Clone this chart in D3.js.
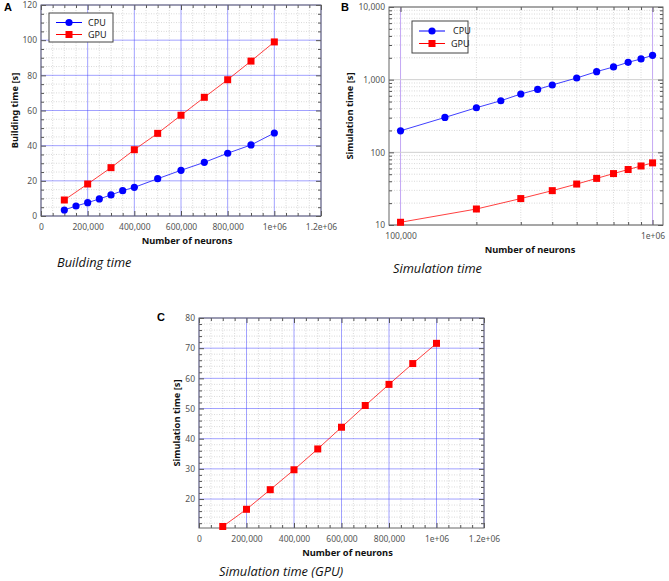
<!DOCTYPE html>
<html><head><meta charset="utf-8">
<script src="https://cdn.jsdelivr.net/npm/d3@7"></script>
<style>
body{margin:0;background:#fff;}
svg{display:block;}
</style></head>
<body>
<svg id="c" width="669" height="581"></svg>
<script>
// ---------- DATA ----------
const neuronsCPU = [100000,150000,200000,250000,300000,350000,400000,500000,600000,700000,800000,900000,1000000];
const neuronsGPU = [100000,200000,300000,400000,500000,600000,700000,800000,900000,1000000];
const buildCPU = [3.4,5.7,7.6,9.7,12.0,14.4,16.3,21.2,26.0,30.5,35.7,40.4,47.2];
const buildGPU = [9.1,18.2,27.5,37.7,47.0,57.3,67.5,77.5,88.1,99.0];
const simCPU = [198,302,411,513,635,735,845,1055,1290,1497,1733,1927,2163];
const simGPU = [10.9,16.6,23.1,29.7,36.6,43.8,51.0,58.0,64.9,71.6];
const seriesNames = ["CPU","GPU"];
const linXTicks = [0,200000,400000,600000,800000,1000000,1200000];
const linXTickLabels = ["0","200,000","400,000","600,000","800,000","1e+06","1.2e+06"];
const buildYTicks = [0,20,40,60,80,100,120];
const buildYTickLabels = ["0","20","40","60","80","100","120"];
const simCYTicks = [20,30,40,50,60,70,80];
const simCYTickLabels = ["20","30","40","50","60","70","80"];
const logXTicks = [100000,1000000];
const logXTickLabels = ["100,000","1e+06"];
const logYTicks = [10,100,1000,10000];
const logYTickLabels = ["10","100","1,000","10,000"];
const panelLabels = ["A","B","C"];
const captions = ["Building time","Simulation time","Simulation time (GPU)"];
const xTitle = "Number of neurons";
const yTitles = ["Building time [s]","Simulation time [s]","Simulation time [s]"];

// ---------- STYLE ----------
const CPU_COL = "#0000ff", GPU_COL = "#ff0000";
const TICK_FONT = "'Noto Sans', sans-serif";
const svg = d3.select("#c");

function drawPanel(o){
  const g = svg.append("g").attr("transform",`translate(${o.left},${o.top})`);
  const W = o.right - o.left, H = o.bottom - o.top;
  const x = (o.xlog ? d3.scaleLog() : d3.scaleLinear()).domain(o.xdom).range([0,W]);
  const y = (o.ylog ? d3.scaleLog() : d3.scaleLinear()).domain(o.ydom).range([H,0]);

  // minor grid
  const gm = g.append("g");
  gm.selectAll("line.mx").data(o.xMinor).join("line")
    .attr("x1",d=>x(d)).attr("x2",d=>x(d)).attr("y1",0).attr("y2",H)
    .attr("stroke","#cfcfcf").attr("stroke-width",0.8).attr("stroke-dasharray","1,1.5");
  gm.selectAll("line.my").data(o.yMinor).join("line")
    .attr("y1",d=>y(d)).attr("y2",d=>y(d)).attr("x1",0).attr("x2",W)
    .attr("stroke","#cfcfcf").attr("stroke-width",0.8).attr("stroke-dasharray","1,1.5");
  // major grid
  gm.selectAll("line.Mx").data(o.xTicks).join("line")
    .attr("x1",d=>x(d)).attr("x2",d=>x(d)).attr("y1",0).attr("y2",H)
    .attr("stroke",o.vGridCol).attr("stroke-width",1);
  gm.selectAll("line.My").data(o.yTicks).join("line")
    .attr("y1",d=>y(d)).attr("y2",d=>y(d)).attr("x1",0).attr("x2",W)
    .attr("stroke",o.hGridCol).attr("stroke-width",1);

  // axes
  function styleAx(sel){
    sel.select(".domain").remove();
    sel.selectAll(".tick line").attr("stroke","#555");
    sel.selectAll("text").attr("fill","#555").attr("font-family",TICK_FONT).attr("font-size","8.5px");
  }
  const minorFmt = () => "";
  g.append("g").attr("transform",`translate(0,${H})`)
    .call(d3.axisBottom(x).tickValues(o.xTicks).tickFormat((d,i)=>o.xLabels[i]).tickSize(-5).tickPadding(8)).call(styleAx);
  g.append("g").attr("transform",`translate(0,${H})`)
    .call(d3.axisBottom(x).tickValues(o.xMinor).tickFormat(minorFmt).tickSize(-3)).call(styleAx);
  g.append("g")
    .call(d3.axisTop(x).tickValues(o.xTicks).tickFormat(minorFmt).tickSize(-5)).call(styleAx);
  g.append("g")
    .call(d3.axisTop(x).tickValues(o.xMinor).tickFormat(minorFmt).tickSize(-3)).call(styleAx);
  g.append("g")
    .call(d3.axisLeft(y).tickValues(o.yTicks).tickFormat((d,i)=>o.yLabels[i]).tickSize(-5).tickPadding(4)).call(styleAx);
  g.append("g")
    .call(d3.axisLeft(y).tickValues(o.yMinor).tickFormat(minorFmt).tickSize(-3)).call(styleAx);
  g.append("g").attr("transform",`translate(${W},0)`)
    .call(d3.axisRight(y).tickValues(o.yTicks).tickFormat(minorFmt).tickSize(-5)).call(styleAx);
  g.append("g").attr("transform",`translate(${W},0)`)
    .call(d3.axisRight(y).tickValues(o.yMinor).tickFormat(minorFmt).tickSize(-3)).call(styleAx);

  // frame
  g.append("rect").attr("width",W).attr("height",H).attr("fill","none").attr("stroke","#666").attr("stroke-width",1);

  // series
  const line = d3.line().x(d=>x(d[0])).y(d=>y(d[1]));
  o.series.forEach(s=>{
    const pts = s.xs.map((v,i)=>[v,s.ys[i]]);
    g.append("path").datum(pts).attr("d",line).attr("fill","none")
      .attr("stroke",s.col).attr("stroke-width",1).attr("stroke-opacity",0.75);
    if(s.shape==="circle"){
      g.selectAll(null).data(pts).join("circle").attr("cx",d=>x(d[0])).attr("cy",d=>y(d[1])).attr("r",3.6).attr("fill",s.col);
    } else {
      g.selectAll(null).data(pts).join("rect").attr("x",d=>x(d[0])-3.5).attr("y",d=>y(d[1])-3.5)
        .attr("width",7).attr("height",7).attr("fill",s.col);
    }
  });

  // legend
  if(o.legend){
    const L = o.legend;
    const lg = svg.append("g").attr("transform",`translate(${L.x},${L.y})`);
    lg.append("rect").attr("width",L.w).attr("height",L.h).attr("fill","#fff").attr("stroke","#444").attr("stroke-width",1);
    o.series.forEach((s,i)=>{
      const yy = L.rowY[i];
      lg.append("line").attr("x1",L.lx0).attr("x2",L.lx1).attr("y1",yy).attr("y2",yy).attr("stroke",s.col).attr("stroke-width",1);
      const mx=(L.lx0+L.lx1)/2;
      if(s.shape==="circle") lg.append("circle").attr("cx",mx).attr("cy",yy).attr("r",3.6).attr("fill",s.col);
      else lg.append("rect").attr("x",mx-3.5).attr("y",yy-3.5).attr("width",7).attr("height",7).attr("fill",s.col);
      lg.append("text").attr("x",L.tx[i]).attr("y",yy).attr("dy","0.35em").text(s.name)
        .attr("font-family",TICK_FONT).attr("font-size","9px").attr("fill","#222");
    });
  }

  // titles
  svg.append("text").attr("x",(o.left+o.right)/2+o.xtDx).attr("y",o.xtY).attr("text-anchor","middle")
    .attr("font-family",TICK_FONT).attr("font-weight","bold").attr("font-size","9.3px").attr("fill","#111").text(xTitle);
  svg.append("text").attr("transform",`translate(${o.ytX},${(o.top+o.bottom)/2}) rotate(-90)`).attr("text-anchor","middle")
    .attr("font-family",TICK_FONT).attr("font-weight","bold").attr("font-size","9.3px").attr("fill","#111").text(o.ytitle);
  svg.append("text").attr("x",o.plX).attr("y",o.plY).attr("font-family","'Liberation Sans', Arial, sans-serif")
    .attr("font-weight","bold").attr("font-size","11px").attr("fill","#000").text(o.plabel);
  svg.append("text").attr("x",o.capX).attr("y",o.capY).attr("font-family","'Open Sans', sans-serif")
    .attr("font-style","italic").attr("font-size","12.8px").attr("fill","#111").text(o.caption);
}

const linMinorX = d3.range(0,1200001,50000).filter(v=>v%200000!==0);
const blueGrid = "rgba(70,70,255,0.5)";

// Panel A
drawPanel({
  left:41, right:321, top:5, bottom:216,
  xdom:[0,1200000], ydom:[0,120],
  xTicks:linXTicks, xLabels:linXTickLabels,
  yTicks:buildYTicks, yLabels:buildYTickLabels,
  xMinor:linMinorX, yMinor:d3.range(0,121,5).filter(v=>v%20!==0),
  vGridCol:blueGrid, hGridCol:blueGrid,
  series:[
    {name:seriesNames[0], xs:neuronsCPU, ys:buildCPU, col:CPU_COL, shape:"circle"},
    {name:seriesNames[1], xs:neuronsGPU, ys:buildGPU, col:GPU_COL, shape:"square"}
  ],
  legend:{x:49,y:13,w:64,h:29,lx0:7,lx1:33,rowY:[9.5,21.5],tx:[39,39]},
  xtDx:6, xtY:244, ytX:18, ytitle:yTitles[0],
  plabel:panelLabels[0], plX:4, plY:11,
  caption:captions[0], capX:57, capY:267
});

// Panel B
const logMinorX = d3.range(2,10).map(k=>k*100000);
const logMinorY = [1,10,100,1000].flatMap(b=>d3.range(2,10).map(k=>k*b)).filter(v=>v>10&&v<10000);
drawPanel({
  left:389, right:663, top:7, bottom:225,
  xlog:true, ylog:true,
  xdom:[90000,1100000], ydom:[10,10000],
  xTicks:logXTicks, xLabels:logXTickLabels,
  yTicks:logYTicks, yLabels:logYTickLabels,
  xMinor:logMinorX, yMinor:logMinorY,
  vGridCol:"#c4a8f4", hGridCol:"#cfcfcf",
  series:[
    {name:seriesNames[0], xs:neuronsCPU, ys:simCPU, col:CPU_COL, shape:"circle"},
    {name:seriesNames[1], xs:neuronsGPU, ys:simGPU, col:GPU_COL, shape:"square"}
  ],
  legend:{x:412,y:21,w:56,h:32,lx0:7,lx1:33,rowY:[10,22.5],tx:[41,39]},
  xtDx:4, xtY:253, ytX:353, ytitle:yTitles[1],
  plabel:panelLabels[1], plX:341, plY:11,
  caption:captions[1], capX:393, capY:273
});

// Panel C
drawPanel({
  left:199, right:484, top:318, bottom:528,
  xdom:[0,1200000], ydom:[10.4,80],
  xTicks:linXTicks, xLabels:linXTickLabels,
  yTicks:simCYTicks, yLabels:simCYTickLabels,
  xMinor:linMinorX, yMinor:d3.range(12,80,2).filter(v=>v%10!==0),
  vGridCol:blueGrid, hGridCol:blueGrid,
  series:[
    {name:seriesNames[1], xs:neuronsGPU, ys:simGPU, col:GPU_COL, shape:"square"}
  ],
  legend:null,
  xtDx:6, xtY:556, ytX:180, ytitle:yTitles[2],
  plabel:panelLabels[2], plX:157, plY:321,
  caption:captions[2], capX:219, capY:576
});
</script>
</body></html>
